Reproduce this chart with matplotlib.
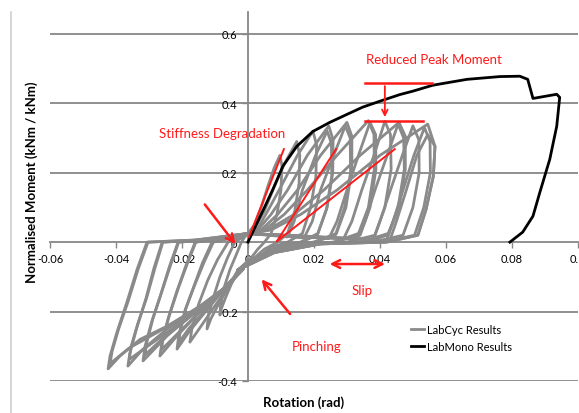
import matplotlib
matplotlib.use('Agg')
import matplotlib.pyplot as plt
from matplotlib.lines import Line2D

plt.rcParams['font.family'] = ['Lato', 'DejaVu Sans']
plt.rcParams['axes.unicode_minus'] = False

# monotonic test
mono_rot = [0.0, 0.005, 0.0076, 0.0106, 0.0148, 0.0197, 0.0248, 0.030, 0.0348, 0.040, 0.046, 0.050,
            0.056, 0.0664, 0.0764, 0.0824, 0.0848, 0.0864, 0.0936, 0.0945, 0.0936, 0.0915, 0.0885,
            0.0864, 0.0833, 0.0794]
mono_mom = [0.0, 0.10, 0.153, 0.219, 0.276, 0.319, 0.345, 0.368, 0.389, 0.406, 0.425, 0.435,
            0.452, 0.469, 0.477, 0.478, 0.469, 0.414, 0.426, 0.417, 0.334, 0.239, 0.144,
            0.075, 0.029, 0.0]

# cyclic test - positive half cycles, first cycle at each amplitude (from origin)
pos_rot = [
    [0.0, 0.002, 0.004, 0.006, 0.008, 0.0097, 0.0103, 0.0100, 0.0088, 0.0070, 0.005, 0.003, 0.001, -0.003],
    [0.0, 0.002, 0.005, 0.008, 0.011, 0.0148, 0.0157, 0.0155, 0.0142, 0.0120, 0.009, 0.005, 0.002, -0.003],
    [0.0, 0.003, 0.006, 0.010, 0.015, 0.0197, 0.0208, 0.0206, 0.0190, 0.0165, 0.012, 0.007, 0.003, -0.003],
    [0.0, 0.003, 0.007, 0.012, 0.018, 0.0245, 0.0258, 0.0257, 0.0240, 0.0212, 0.016, 0.009, 0.004, -0.003],
    [0.0, 0.004, 0.009, 0.015, 0.022, 0.030, 0.0315, 0.0315, 0.0297, 0.0268, 0.020, 0.011, 0.004, -0.003],
    [0.0, 0.005, 0.011, 0.018, 0.027, 0.0365, 0.0382, 0.0383, 0.0365, 0.0335, 0.026, 0.014, 0.005, -0.003],
    [0.0, 0.006, 0.014, 0.023, 0.034, 0.0458, 0.0477, 0.0477, 0.0458, 0.0425, 0.034, 0.018, 0.006, -0.003],
    [0.0, 0.007, 0.016, 0.027, 0.040, 0.0545, 0.0567, 0.0562, 0.054, 0.0515, 0.042, 0.022, 0.008, -0.003],
]
pos_mom = [
    [0.025, 0.05, 0.10, 0.16, 0.215, 0.25, 0.22, 0.15, 0.08, 0.025, 0.0, -0.02, -0.045, -0.08],
    [0.025, 0.04, 0.09, 0.16, 0.225, 0.29, 0.25, 0.17, 0.09, 0.025, 0.0, -0.02, -0.045, -0.08],
    [0.025, 0.04, 0.09, 0.16, 0.25, 0.32, 0.28, 0.19, 0.10, 0.025, 0.0, -0.015, -0.045, -0.08],
    [0.025, 0.035, 0.08, 0.15, 0.25, 0.335, 0.295, 0.20, 0.10, 0.025, 0.0, -0.012, -0.04, -0.08],
    [0.025, 0.035, 0.08, 0.15, 0.25, 0.345, 0.305, 0.21, 0.10, 0.025, 0.0, -0.01, -0.04, -0.08],
    [0.025, 0.035, 0.08, 0.15, 0.25, 0.35, 0.31, 0.21, 0.10, 0.025, 0.0, -0.008, -0.035, -0.08],
    [0.025, 0.035, 0.08, 0.15, 0.25, 0.345, 0.305, 0.21, 0.10, 0.025, 0.0, -0.006, -0.03, -0.08],
    [0.025, 0.035, 0.08, 0.15, 0.25, 0.34, 0.276, 0.19, 0.095, 0.02, 0.0, -0.005, -0.03, -0.08],
]

# repeated positive cycles (slip, then stiff reloading)
rep_rot = [
    [0.0, 0.006, 0.012, 0.014, 0.0165, 0.0205, 0.0240, 0.0253, 0.0254, 0.0238, 0.021, 0.016, 0.009, 0.004, -0.003],
    [0.0, 0.008, 0.017, 0.0195, 0.022, 0.026, 0.0295, 0.031, 0.0311, 0.0293, 0.0265, 0.020, 0.011, 0.004, -0.003],
    [0.0, 0.010, 0.0245, 0.027, 0.030, 0.0335, 0.037, 0.0387, 0.0388, 0.0370, 0.034, 0.026, 0.014, 0.005, -0.003],
    [0.0, 0.012, 0.029, 0.0315, 0.0345, 0.0382, 0.0415, 0.0432, 0.0434, 0.0415, 0.0385, 0.030, 0.016, 0.006, -0.003],
    [0.0, 0.014, 0.033, 0.0355, 0.0385, 0.0422, 0.0455, 0.0472, 0.0474, 0.0455, 0.0425, 0.034, 0.018, 0.006, -0.003],
    [0.0, 0.016, 0.038, 0.040, 0.0432, 0.0468, 0.050, 0.0518, 0.0519, 0.0500, 0.047, 0.038, 0.020, 0.007, -0.003],
    [0.0, 0.018, 0.043, 0.0450, 0.0480, 0.0512, 0.0545, 0.0567, 0.0562, 0.054, 0.0515, 0.042, 0.022, 0.008, -0.003],
    [0.0, 0.018, 0.042, 0.0440, 0.0470, 0.0503, 0.0535, 0.0552, 0.0553, 0.0533, 0.0505, 0.041, 0.022, 0.008, -0.003],
]
rep_mom = [
    [0.025, 0.02, 0.015, 0.06, 0.15, 0.25, 0.32, 0.285, 0.19, 0.095, 0.02, 0.0, -0.012, -0.04, -0.08],
    [0.025, 0.02, 0.012, 0.06, 0.15, 0.25, 0.335, 0.30, 0.20, 0.10, 0.02, 0.0, -0.01, -0.04, -0.08],
    [0.025, 0.02, 0.01, 0.06, 0.15, 0.25, 0.345, 0.31, 0.21, 0.10, 0.02, 0.0, -0.008, -0.035, -0.08],
    [0.025, 0.018, 0.01, 0.06, 0.15, 0.25, 0.348, 0.31, 0.21, 0.10, 0.02, 0.0, -0.007, -0.033, -0.08],
    [0.025, 0.018, 0.008, 0.06, 0.15, 0.25, 0.34, 0.30, 0.21, 0.10, 0.02, 0.0, -0.006, -0.03, -0.08],
    [0.025, 0.018, 0.008, 0.06, 0.15, 0.25, 0.335, 0.295, 0.20, 0.10, 0.02, 0.0, -0.005, -0.03, -0.08],
    [0.025, 0.016, 0.005, 0.06, 0.15, 0.25, 0.31, 0.276, 0.19, 0.095, 0.02, 0.0, -0.005, -0.03, -0.08],
    [0.025, 0.016, 0.005, 0.06, 0.15, 0.25, 0.33, 0.29, 0.20, 0.10, 0.02, 0.0, -0.005, -0.03, -0.08],
]

# negative half cycles (load -> peak -> unload -> slip back to origin)
neg_rot = [
    [-0.003, -0.0050, -0.0068, -0.0080, -0.0085, -0.0083, -0.0072, -0.0055, -0.0035, -0.0020, -0.001, 0.0],
    [-0.003, -0.0060, -0.0090, -0.0112, -0.0124, -0.0120, -0.0105, -0.0085, -0.0062, -0.0040, -0.002, 0.0],
    [-0.002, -0.006, -0.0105, -0.0148, -0.0176, -0.0170, -0.0150, -0.0122, -0.0092, -0.0060, -0.003, 0.0],
    [-0.002, -0.0064, -0.0120, -0.0180, -0.0215, -0.0210, -0.0192, -0.0165, -0.0138, -0.0109, -0.005, 0.0],
    [-0.002, -0.0064, -0.0135, -0.0215, -0.0267, -0.0261, -0.0242, -0.0215, -0.0187, -0.016, -0.008, 0.0],
    [-0.0015, -0.0064, -0.0145, -0.0245, -0.0318, -0.0312, -0.0292, -0.0264, -0.0238, -0.0212, -0.010, 0.0],
    [-0.0015, -0.0064, -0.0145, -0.0245, -0.0320, -0.0364, -0.0358, -0.0338, -0.0310, -0.0285, -0.026, -0.013, 0.0],
    [-0.0015, -0.0064, -0.0145, -0.0245, -0.0327, -0.0388, -0.0424, -0.0418, -0.0397, -0.0367, -0.0336, -0.0306, -0.016, 0.0],
    [-0.002, -0.0070, -0.0125, -0.0180, -0.0210, -0.0205, -0.0188, -0.0162, -0.0134, -0.0105, -0.005, 0.0],
    [-0.002, -0.0075, -0.0140, -0.0215, -0.0262, -0.0257, -0.0238, -0.0212, -0.0185, -0.0158, -0.008, 0.0],
    [-0.0015, -0.0075, -0.0155, -0.0250, -0.0312, -0.0307, -0.0288, -0.0262, -0.0236, -0.0210, -0.010, 0.0],
    [-0.0015, -0.0075, -0.0160, -0.0260, -0.0360, -0.0354, -0.0334, -0.0307, -0.0282, -0.0258, -0.013, 0.0],
    [-0.0015, -0.0075, -0.0165, -0.0275, -0.0360, -0.0418, -0.0412, -0.0392, -0.0363, -0.0333, -0.0303, -0.016, 0.0],
]
neg_mom = [
    [-0.08, -0.12, -0.16, -0.19, -0.21, -0.18, -0.13, -0.08, -0.035, 0.0, 0.015, 0.025],
    [-0.08, -0.13, -0.18, -0.22, -0.25, -0.21, -0.16, -0.10, -0.045, 0.0, 0.012, 0.025],
    [-0.078, -0.13, -0.19, -0.25, -0.288, -0.25, -0.18, -0.11, -0.05, 0.0, 0.012, 0.025],
    [-0.078, -0.127, -0.19, -0.26, -0.308, -0.27, -0.20, -0.13, -0.06, 0.0, 0.012, 0.025],
    [-0.078, -0.127, -0.19, -0.27, -0.328, -0.29, -0.22, -0.14, -0.065, 0.0, 0.010, 0.025],
    [-0.078, -0.127, -0.19, -0.27, -0.342, -0.30, -0.23, -0.15, -0.07, 0.0, 0.008, 0.025],
    [-0.078, -0.127, -0.185, -0.25, -0.31, -0.357, -0.32, -0.25, -0.165, -0.075, 0.0, 0.007, 0.025],
    [-0.078, -0.127, -0.184, -0.242, -0.28, -0.328, -0.365, -0.328, -0.259, -0.173, -0.078, 0.0, 0.006, 0.025],
    [-0.078, -0.135, -0.19, -0.25, -0.29, -0.255, -0.19, -0.125, -0.06, 0.0, 0.012, 0.025],
    [-0.078, -0.135, -0.195, -0.265, -0.31, -0.275, -0.21, -0.135, -0.065, 0.0, 0.010, 0.025],
    [-0.078, -0.135, -0.20, -0.27, -0.325, -0.29, -0.22, -0.145, -0.07, 0.0, 0.008, 0.025],
    [-0.078, -0.135, -0.20, -0.27, -0.338, -0.30, -0.235, -0.16, -0.075, 0.0, 0.007, 0.025],
    [-0.078, -0.135, -0.20, -0.26, -0.305, -0.35, -0.315, -0.25, -0.17, -0.078, 0.0, 0.006, 0.025],
]

yticks = [-0.4, -0.2, 0, 0.2, 0.4, 0.6]
ytick_labels = ['-0.4', '-0.2', '0', '0.2', '0.4', '0.6']
xticks = [-0.06, -0.04, -0.02, 0, 0.02, 0.04, 0.06, 0.08, 0.1]
xtick_labels = ['-0.06', '-0.04', '-0.02', '0', '0.02', '0.04', '0.06', '0.08', '0.1']

grid_c = '#878787'
cyc_c = '#8a8a8a'

fig = plt.figure(figsize=(5.79, 4.14), dpi=100)
ax = fig.add_axes([0.0864, 0.0773, 0.9116, 0.8913])
ax.set_xlim(-0.06, 0.1)
ax.set_ylim(-0.4, 0.663)

for s in ['top', 'right']:
    ax.spines[s].set_visible(False)
ax.spines['left'].set_position(('data', 0))
ax.spines['bottom'].set_position(('data', 0))
for s in ['left', 'bottom']:
    ax.spines[s].set_color(grid_c)
    ax.spines[s].set_linewidth(1.3)
ax.spines['left'].set_bounds(-0.4, 0.663)

for yv in yticks:
    if yv != 0:
        ax.axhline(yv, color=grid_c, lw=1.3, zorder=1)

ax.set_xticks(xticks)
ax.set_xticklabels(xtick_labels)
ax.set_yticks(yticks)
ax.set_yticklabels(ytick_labels)
ax.tick_params(axis='both', colors=grid_c, labelcolor='black', labelsize=8, length=4, width=1)

for xs, ys in zip(pos_rot + rep_rot + neg_rot, pos_mom + rep_mom + neg_mom):
    ax.plot(xs, ys, color=cyc_c, lw=2.0, zorder=2, solid_joinstyle='round')
ax.plot(mono_rot, mono_mom, color='black', lw=2.0, zorder=3)

# annotations
red = '#ff1a1a'
ax.plot([0.0003, 0.0109], [0.015, 0.268], color=red, lw=1.4, zorder=4)
ax.plot([0.0088, 0.0267], [0.003, 0.268], color=red, lw=1.4, zorder=4)
ax.plot([0.0088, 0.0445], [0.003, 0.268], color=red, lw=1.4, zorder=4)
ax.plot([0.0355, 0.0558], [0.4576, 0.4576], color=red, lw=1.8, zorder=4)
ax.plot([0.0355, 0.053], [0.348, 0.348], color=red, lw=1.8, zorder=4)
ax.annotate('', xy=(0.0415, 0.352), xytext=(0.0415, 0.4576),
            arrowprops=dict(arrowstyle='->', color=red, lw=1.3), zorder=5)
ax.annotate('', xy=(-0.0033, -0.012), xytext=(-0.0136, 0.115),
            arrowprops=dict(arrowstyle='->', color=red, lw=1.8, mutation_scale=14), zorder=5)
ax.annotate('', xy=(0.0036, -0.101), xytext=(0.0133, -0.213),
            arrowprops=dict(arrowstyle='->', color=red, lw=1.8, mutation_scale=14), zorder=5)
ax.annotate('', xy=(0.0239, -0.063), xytext=(0.0424, -0.063),
            arrowprops=dict(arrowstyle='<->', color=red, lw=1.8, mutation_scale=14), zorder=5)

ax.text(0.0564, 0.527, 'Reduced Peak Moment', color=red, fontsize=9.5, ha='center', va='center')
ax.text(-0.0079, 0.314, 'Stiffness Degradation', color=red, fontsize=9.5, ha='center', va='center')
ax.text(0.0345, -0.138, 'Slip', color=red, fontsize=9.5, ha='center', va='center')
ax.text(0.0209, -0.30, 'Pinching', color=red, fontsize=9.5, ha='center', va='center')

handles = [Line2D([], [], color=cyc_c, lw=2), Line2D([], [], color='black', lw=2)]
fig.legend(handles, ['LabCyc Results', 'LabMono Results'], loc='upper left',
           bbox_to_anchor=(0.71, 0.215), frameon=False, fontsize=8,
           handlelength=1.2, handletextpad=0.2, labelspacing=0.55,
           borderpad=0, borderaxespad=0)

fig.text(0.525, 0.027, 'Rotation (rad)', fontsize=9.5, fontweight='bold', ha='center', va='center')
fig.text(0.055, 0.56, 'Normalised Moment (kNm / kNm)', fontsize=9.5, fontweight='bold',
         ha='center', va='center', rotation=90)

fig.add_artist(Line2D([0.019, 0.019], [0.0, 0.969], color='#d0d0d0', lw=1.2))

fig.savefig('out.png', dpi=100)
